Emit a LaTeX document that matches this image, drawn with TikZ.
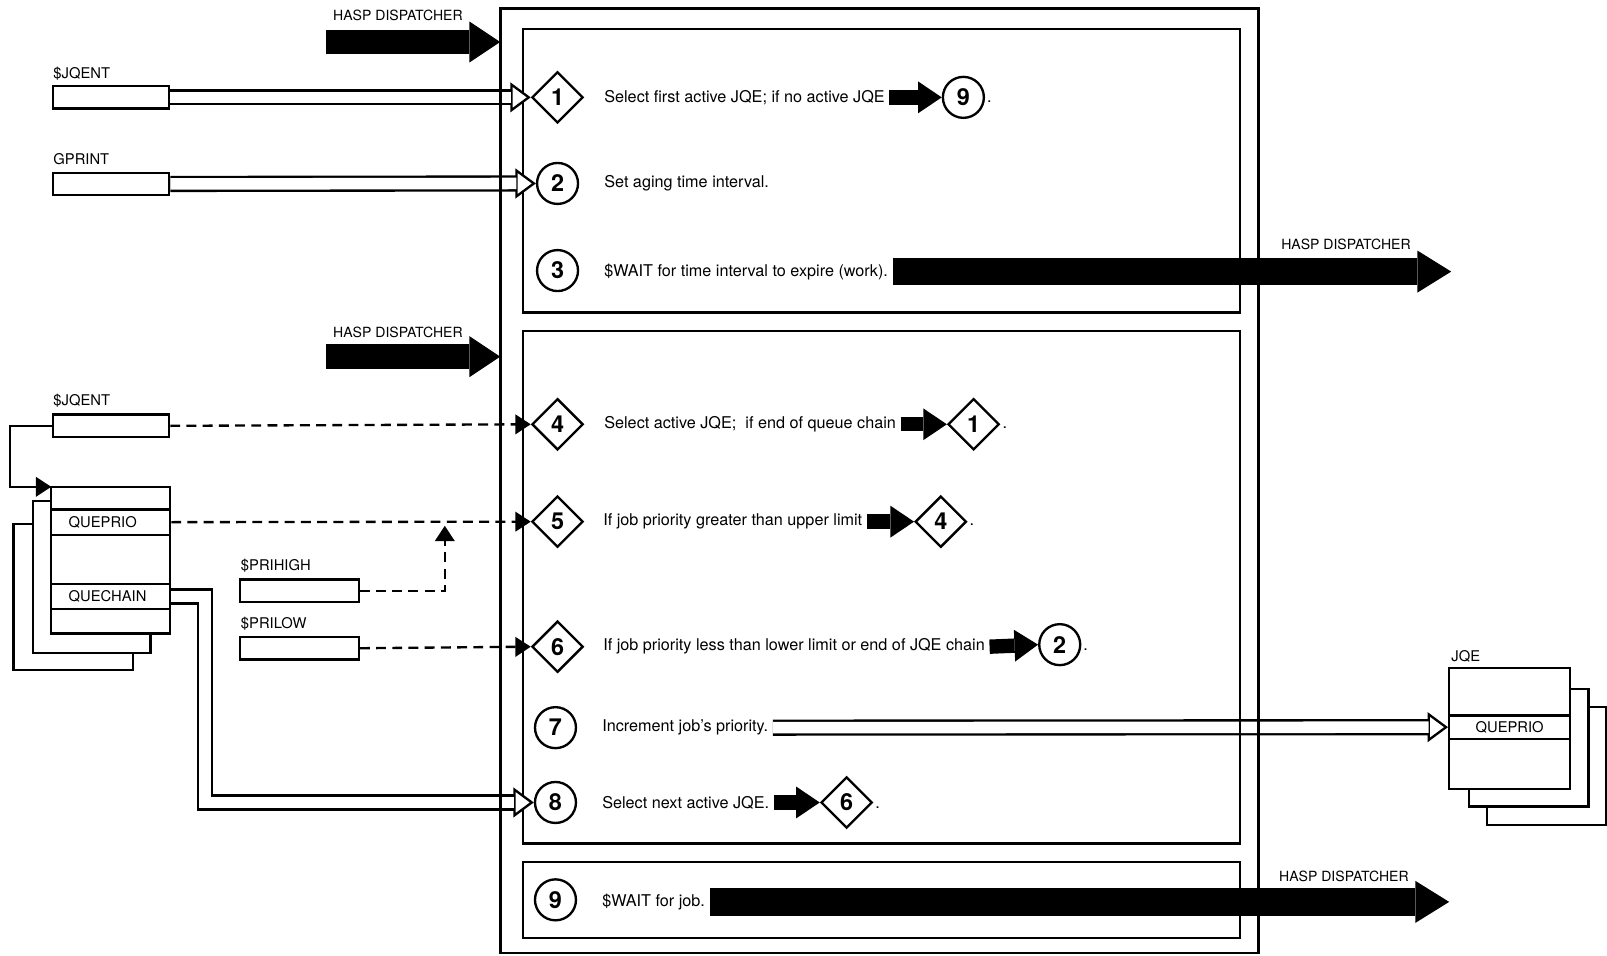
\documentclass[tikz,border=0pt]{standalone}
\usepackage{fontspec}
\setmainfont{TeX Gyre Heros}
\usetikzlibrary{arrows.meta,shapes.geometric}

\begin{document}
\begin{tikzpicture}[x=0.02cm, y=-0.02cm, line width=1.3pt, font=\fontsize{9}{10.8}\selectfont,
  frm/.style={draw, inner sep=0pt, outer sep=0pt},
  lbl/.style={anchor=west, inner sep=0pt, font=\fontsize{8.2}{9.8}\selectfont},
  hlbl/.style={lbl, font=\fontsize{7.8}{9.4}\selectfont},
  txt/.style={anchor=west, inner sep=2pt},
  stepsym/.style={draw, fill=white, inner sep=0pt, font=\fontsize{13}{13}\selectfont\bfseries},
  dia/.style={stepsym, diamond, minimum size=1cm},
  circ/.style={stepsym, circle, minimum size=0.8cm},
  fld/.style={draw, fill=white, inner sep=0pt, minimum width=2.26cm, minimum height=0.44cm, font=\fontsize{8.2}{9.8}\selectfont},
  qrow/.style={fld, minimum width=2.32cm, text width=1.64cm, align=left, inner xsep=0.34cm},
  hasp/.style={line width=0.48cm, -{Triangle[length=0.6cm, width=0.8cm, line width=0pt]}},
  haspout/.style={line width=0.54cm, -{Triangle[length=0.66cm, width=0.82cm, line width=0pt]}},
  gofat/.style={line width=0.28cm, -{Triangle[length=0.46cm, width=0.62cm, line width=0pt]}},
  tube/.style={line width=9pt, line join=miter, -{Triangle[length=0.4cm, width=0.58cm, fill=white, line width=1.3pt]},
    postaction={draw=white, line width=6.4pt, shorten >=0.38cm, -}},
  dsh/.style={dash pattern=on 5.5pt off 3.5pt, -{Triangle[length=0.3cm, width=0.38cm]}}]
\useasboundingbox (0,0) rectangle (1568,932);

% inner boxes
\node[frm, minimum width=14cm, minimum height=5.54cm] (boxA) at (860,166.5) {};
\node[frm, minimum width=14cm, minimum height=10cm] (boxB) at (860,573) {};
\node[frm, minimum width=14cm, minimum height=1.48cm] (boxC) at (860,878) {};

% steps
\node[dia] (s1) at (544,95) {1};
\node[circ] (s2) at (544,179) {2};
\node[circ] (s3) at (544,264) {3};
\node[dia] (s4) at (544,414) {4};
\node[dia] (s5) at (544,509) {5};
\node[dia] (s6) at (544,631) {6};
\node[circ] (s7) at (542,710) {7};
\node[circ] (s8) at (542,783) {8};
\node[circ] (s9) at (542,878) {9};

\node[txt] (t1) at (585,95) {Select first active JQE; if no active JQE};
\node[txt] (t2) at (585,179) {Set aging time interval.};
\node[txt] (t3) at (585,265) {\$WAIT for time interval to expire (work).};
\node[txt] (t4) at (585,414) {Select active JQE;\ \ if end of queue chain};
\node[txt] (t5) at (584,509) {If job priority greater than upper limit};
\node[txt] (t6) at (584,631) {If job priority less than lower limit or end of JQE chain};
\node[txt] (t7) at (583,710) {Increment job's priority.};
\node[txt] (t8) at (583,783) {Select next active JQE.};
\node[txt] (t9) at (583,880) {\$WAIT for job.};

% go to
\node[circ] (g9) at (940,95) {9};
\node[dia] (g1) at (950,414) {1};
\node[dia] (g4) at (918,509) {4};
\node[circ] (g2) at (1034,629) {2};
\node[dia] (g6) at (826,783) {6};
\draw[gofat] (t1.east) -- (g9.west);
\draw[gofat] (t4.east) -- (g1.west);
\draw[gofat] (t5.east) -- (g4.west);
\draw[gofat] (t6.east) -- (g2.west);
\draw[gofat] (t8.east) -- (g6.west);
\node[anchor=base west, inner sep=0.5pt] (p1) at (g9.east |- t1.base) {.};
\node[anchor=base west, inner sep=0.5pt] (p4) at (g1.east |- t4.base) {.};
\node[anchor=base west, inner sep=0.5pt] (p5) at (g4.east |- t5.base) {.};
\node[anchor=base west, inner sep=0.5pt] (p6) at (g2.east |- t6.base) {.};
\node[anchor=base west, inner sep=0.5pt] (p8) at (g6.east |- t8.base) {.};

% fields
\node[lbl] (l1) at (51,72) {\$JQENT};
\node[fld] (jq1) at (108.5,95) {};
\node[lbl] (l2) at (51,155) {GPRINT};
\node[fld] (gp) at (108.5,179.5) {};
\node[lbl] (l3) at (51,391) {\$JQENT};
\node[fld] (jq2) at (108.5,415.5) {};
\node[lbl] (l4) at (234,552) {\$PRIHIGH};
\node[fld, minimum width=2.32cm] (prihigh) at (292,576.5) {};
\node[lbl] (l5) at (234,609) {\$PRILOW};
\node[fld, minimum width=2.32cm] (prilow) at (292,632.5) {};

% queue elements
\node[frm, fill=white, minimum width=2.34cm, minimum height=2.86cm] (que3) at (71.5,582.5) {};
\node[frm, fill=white, minimum width=2.3cm, minimum height=2.96cm] (que2) at (89.5,563) {};
\node[frm, fill=white, minimum width=2.32cm, minimum height=2.86cm] (que) at (108,546.5) {};
\node[qrow, minimum height=0.5cm] (qprio) at (108,509.5) {QUEPRIO};
\node[qrow, minimum height=0.48cm] (qchain) at (108,582) {QUECHAIN};

\node[frm, fill=white, minimum width=2.32cm, minimum height=2.3cm] (jqe3) at (1509,747.5) {};
\node[frm, fill=white, minimum width=2.34cm, minimum height=2.3cm] (jqe2) at (1491.5,729.5) {};
\node[frm, fill=white, minimum width=2.36cm, minimum height=2.36cm] (jqe) at (1473,711) {};
\node[fld, minimum width=2.36cm, minimum height=0.46cm] (jqprio) at (1473,709.5) {QUEPRIO};
\node[lbl] (l6) at (1415,640) {JQE};

% connectors
\draw[tube] (jq1.east) -- (s1.west);
\draw[tube] (gp.east) -- (s2.west);
\draw[tube] (qchain.east) -- ++(33,0) |- (s8.west);
\draw[tube] (t7.east) -- (jqprio.west);
\draw[dsh] (jq2.east) -- (s4.west);
\draw[dsh] (qprio.east) -- (s5.west);
\draw[dsh] (prilow.east) -- (s6.west);
\coordinate (hi) at (434,513);
\draw[dsh] (prihigh.east) -| (hi);
\draw[-{Triangle[length=0.3cm, width=0.38cm]}] (jq2.west) -- ++(-41,0) |- (que.north west);

% outer frame
\node[frm, line width=1.6pt, minimum width=14.8cm, minimum height=18.44cm] (frame) at (858,469) {};
\draw (boxB.north east) -- (boxB.south east);

% dispatcher
\node[hlbl] (h1) at (324,15) {HASP DISPATCHER};
\coordinate (hin1) at (318,41);
\draw[hasp] (hin1) -- (hin1 -| frame.west);
\node[hlbl] (h2) at (324,324) {HASP DISPATCHER};
\coordinate (hin2) at (318,348);
\draw[hasp] (hin2) -- (hin2 -| frame.west);
\node[hlbl] (h3) at (1249,238) {HASP DISPATCHER};
\coordinate (hout1) at (1416,263);
\draw[haspout] (t3.east) -- (t3.east -| hout1);
\node[hlbl] (h4) at (1247,855) {HASP DISPATCHER};
\coordinate (hout2) at (1414,878);
\draw[haspout] (t9.east) -- (t9.east -| hout2);
\end{tikzpicture}
\end{document}
